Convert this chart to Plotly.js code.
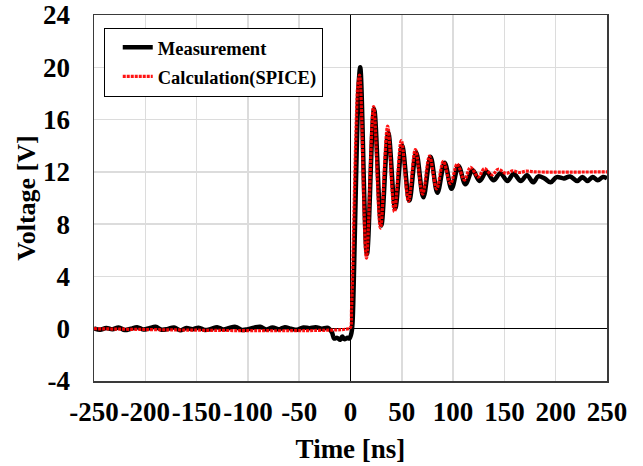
<!DOCTYPE html>
<html>
<head>
<meta charset="utf-8">
<script src="https://cdn.plot.ly/plotly-3.0.1.min.js"></script>
<style>html,body{margin:0;padding:0;background:#fff;}#chart{width:643px;height:466px;}</style>
</head>
<body>
<div id="chart"></div>
<script>
// Measurement (black) - time [ns] and voltage [V]
var measTime = [-250,-244,-238,-232,-226,-220,-214,-208,-202,-196,-190,-184,-178,-172,-166,-160,-154,-148,-142,-136,-130,-124,-118,-112,-106,-100,-94,-88,-82,-76,-70,-64,-58,-52,-46,-40,-34,-28,-22,-18,-16,-13,-10,-8,-6,-3,-1,1,2,3,4,5,6,7,8,9.5,
  16,23,30,36.8,43.6,50.3,57.3,64,71,78,84.7,91.8,98.5,105.3,112,119,125.8,132.5,139.5,146,153,159,166,172,178,183,189,195,201,208,214,221,226,231,236,241,246,250];
var measVolt = [0.02,-0.08,0.05,-0.05,0.1,-0.1,0.0,0.12,-0.06,0.04,0.15,-0.08,-0.02,0.1,-0.12,0.05,-0.04,0.08,-0.1,-0.02,0.12,-0.06,0.06,0.14,-0.1,-0.04,0.08,0.15,-0.06,0.1,-0.05,0.12,0.0,-0.08,0.1,0.04,0.12,0.0,0.06,-0.3,-0.75,-0.7,-0.85,-0.6,-0.8,-0.7,-0.75,-0.3,0.5,3,6.5,10,13.5,16.5,18.8,20.0,
  5.7,16.8,7.9,15.0,9.2,14.0,9.8,13.5,10.05,13.15,10.4,12.7,10.7,12.45,11.05,12.15,11.3,12.0,11.35,11.9,11.3,11.85,11.3,11.75,11.2,11.65,11.5,11.2,11.6,11.5,11.65,11.3,11.6,11.3,11.6,11.35,11.6,11.5];

// Calculation (SPICE) - red
var calcTime = [-250,-2,0,1,2,3,4,5,6,7,8.8,15.5,22.5,29.2,36.2,42.8,49.5,56.5,63.2,70.3,77,84,90.5,97.5,104,111,117,124.5,130.5,138,144,151.5,158,165,171,180,250];
var calcVolt = [0,0,0.1,1.5,4,7.5,11,14.2,16.8,18.5,19.4,5.4,17.0,7.7,15.5,8.95,14.4,9.75,13.7,10.3,13.2,10.7,12.8,11.1,12.6,11.37,12.35,11.6,12.25,11.76,12.2,11.88,12.08,11.95,12.05,12.0,12.0];

var seriesNames = ['Measurement', 'Calculation(SPICE)'];
var xTicks = [-250,-200,-150,-100,-50,0,50,100,150,200,250];
var yTicks = [-4,0,4,8,12,16,20,24];

var FONT = 'Liberation Serif, Times New Roman, serif';

var traces = [
  {x: measTime, y: measVolt, type: 'scatter', mode: 'lines', name: seriesNames[0], legendgroup: 'a',
   line: {color: '#000000', width: 4.5, shape: 'spline'}},
  {x: calcTime, y: calcVolt, type: 'scatter', mode: 'lines', name: seriesNames[1], legendgroup: 'b',
   line: {color: 'rgba(255,0,0,0.92)', width: 3.2, shape: 'spline', dash: '3px,1px'}}
];

var layout = {
  width: 643, height: 466,
  margin: {l: 94, r: 36, t: 15, b: 85},
  paper_bgcolor: '#ffffff', plot_bgcolor: '#ffffff',
  font: {family: FONT, color: '#000', size: 27},
  showlegend: true,
  legend: {
    x: 0.019, y: 0.965, xanchor: 'left', yanchor: 'top',
    bgcolor: '#ffffff', bordercolor: '#000', borderwidth: 1,
    font: {family: FONT, size: 18.5, color: '#000', weight: 'bold'},
    traceorder: 'grouped', tracegroupgap: 2, indentation: 13
  },
  xaxis: {
    range: [-250, 250], tickvals: xTicks, ticktext: xTicks.map(String),
    showgrid: true, gridcolor: '#dcdcdc', gridwidth: 1.5,
    zeroline: true, zerolinecolor: '#000', zerolinewidth: 1,
    showline: true, mirror: true, linecolor: '#3a3a3a', linewidth: 1.5,
    ticks: '', ticklabelstandoff: 6, tickangle: 0,
    tickfont: {family: FONT, size: 27, color: '#000', weight: 'bold'},
    title: {text: 'Time [ns]', font: {family: FONT, size: 27, color: '#000', weight: 'bold'}, standoff: 13}
  },
  yaxis: {
    range: [-4, 24], tickvals: yTicks, ticktext: yTicks.map(String),
    showgrid: true, gridcolor: '#dcdcdc', gridwidth: 1.5,
    zeroline: true, zerolinecolor: '#000', zerolinewidth: 1,
    showline: true, mirror: true, linecolor: '#3a3a3a', linewidth: 1.5,
    ticks: '', ticklabelstandoff: 17, tickangle: 0,
    tickfont: {family: FONT, size: 27, color: '#000', weight: 'bold'},
    title: {text: 'Voltage [V]', font: {family: FONT, size: 26, color: '#000', weight: 'bold'}, standoff: 0}
  }
};

Plotly.newPlot('chart', traces, layout, {displayModeBar: false, staticPlot: true});
</script>
</body>
</html>
